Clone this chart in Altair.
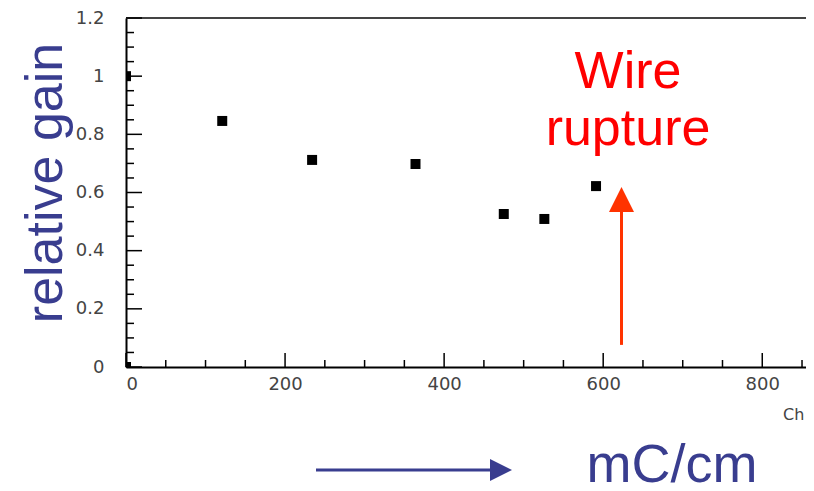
import altair as alt
import pandas as pd

# ---- data ----
charge = [0, 121, 234, 364, 475, 526, 591, 0]
gain = [1.0, 0.846, 0.712, 0.698, 0.526, 0.509, 0.622, 0.0]

x_major = [0, 200, 400, 600, 800]
x_minor = [50, 100, 150, 250, 300, 350, 450, 500, 550, 650, 700, 750, 850]
y_major = [0.0, 0.2, 0.4, 0.6, 0.8, 1.0, 1.2]
y_minor = [0.05, 0.1, 0.15, 0.25, 0.3, 0.35, 0.45, 0.5, 0.55, 0.65, 0.7, 0.75,
           0.85, 0.9, 0.95, 1.05, 1.1, 1.15]

rupture_charge = [623]
rupture_from = [0.076]
rupture_to = [0.533]
rupture_head = [0.576]

BLUE = "#393d8f"
RED = "#ff0000"
ORANGE = "#ff3300"
FONT = "Liberation Sans"
TICKFONT = "DejaVu Sans"

W, H = 680, 349

xs = alt.Scale(domain=[0, 855], nice=False, zero=False)
ys = alt.Scale(domain=[0, 1.2], nice=False, zero=False)

xaxis = alt.Axis(
    title=None, values=x_major, format="d", ticks=False, grid=False,
    domainColor="black", domainWidth=2, labelFontSize=18, labelColor="#444",
    labelFont=TICKFONT, labelPadding=8)
yaxis = alt.Axis(
    title=None, values=y_major, ticks=False, grid=False,
    labelExpr="datum.value == 0 ? '0' : datum.value == 1 ? '1' : format(datum.value, '.1f')",
    domainColor="black", domainWidth=2, labelFontSize=18, labelColor="#444",
    labelFont=TICKFONT, labelPadding=22)

df = pd.DataFrame({"charge": charge, "gain": gain})
one = pd.DataFrame({"a": [0]})

points = alt.Chart(df).mark_square(size=100, color="black", opacity=1, clip=True).encode(
    x=alt.X("charge:Q", scale=xs, axis=xaxis),
    y=alt.Y("gain:Q", scale=ys, axis=yaxis),
)

ytick_major = alt.Chart(pd.DataFrame({"v": y_major})).mark_rule(color="black", strokeWidth=1.5).encode(
    y=alt.Y("v:Q", scale=ys, axis=yaxis), x=alt.value(0), x2=alt.value(16))
ytick_minor = alt.Chart(pd.DataFrame({"v": y_minor})).mark_rule(color="black", strokeWidth=1.5).encode(
    y=alt.Y("v:Q", scale=ys, axis=yaxis), x=alt.value(0), x2=alt.value(8))
xtick_major = alt.Chart(pd.DataFrame({"v": x_major})).mark_rule(color="black", strokeWidth=1.5).encode(
    x=alt.X("v:Q", scale=xs, axis=xaxis), y=alt.value(H), y2=alt.value(H - 14))
xtick_minor = alt.Chart(pd.DataFrame({"v": x_minor})).mark_rule(color="black", strokeWidth=1.5).encode(
    x=alt.X("v:Q", scale=xs, axis=xaxis), y=alt.value(H), y2=alt.value(H - 7))

top_frame = alt.Chart(one).mark_rule(color="#444", strokeWidth=2).encode(
    x=alt.value(0), x2=alt.value(W), y=alt.value(0))

arrow_df = pd.DataFrame({"c": rupture_charge, "y1": rupture_from, "y2": rupture_to, "yh": rupture_head})
red_shaft = alt.Chart(arrow_df).mark_rule(color=ORANGE, strokeWidth=3).encode(
    x=alt.X("c:Q", scale=xs, axis=xaxis), y=alt.Y("y1:Q", scale=ys, axis=yaxis), y2="y2:Q")
red_head = alt.Chart(arrow_df).mark_point(
    shape="M0,-1L1,1L-1,1Z", size=625, filled=True, color=ORANGE, opacity=1).encode(
    x=alt.X("c:Q", scale=xs, axis=xaxis), y=alt.Y("yh:Q", scale=ys, axis=yaxis))

def label(text, x, y, size, color, align="center", angle=0, baseline="alphabetic", font=FONT):
    return alt.Chart(one).mark_text(
        text=text, fontSize=size, color=color, font=font, align=align,
        angle=angle, baseline=baseline).encode(x=alt.value(x), y=alt.value(y))

y_title = label("relative gain", -64, 165, 52, BLUE, angle=270, baseline="alphabetic")
wire = label("Wire", 502, 70, 52, RED)
rupture = label("rupture", 502, 127, 52, RED)
unit = label("mC/cm", 546, 464, 54, BLUE)
ch = label("Ch", 657, 402, 16, "#444", align="left", font=TICKFONT)

blue_shaft = alt.Chart(one).mark_rule(color=BLUE, strokeWidth=3).encode(
    x=alt.value(190), x2=alt.value(366), y=alt.value(452))
blue_head = alt.Chart(one).mark_point(
    shape="M-1,-1L1,0L-1,1Z", size=484, filled=True, color=BLUE, opacity=1).encode(
    x=alt.value(375), y=alt.value(452))

chart = alt.layer(
    top_frame, ytick_major, ytick_minor, xtick_major, xtick_minor,
    red_shaft, red_head, points,
    y_title, wire, rupture, unit, ch, blue_shaft, blue_head,
).properties(
    width=W, height=H,
    autosize=alt.AutoSizeParams(type="none"),
    padding={"left": 118, "top": 10, "right": 0, "bottom": 121},
).configure_view(stroke=None)

chart.save("out.html", embed_options={"renderer": "svg", "actions": False})
